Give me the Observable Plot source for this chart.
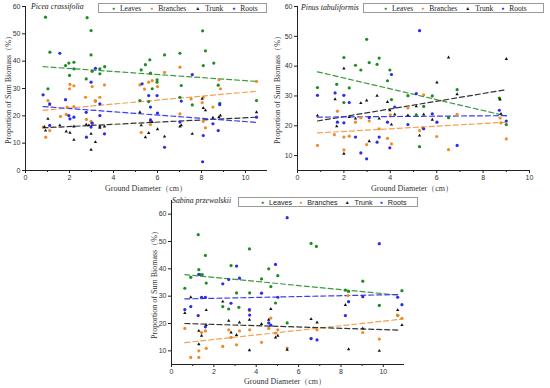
<!DOCTYPE html>
<html>
<head>
<meta charset="utf-8">
<script src="https://cdn.jsdelivr.net/npm/d3@7"></script>
<script src="https://cdn.jsdelivr.net/npm/@observablehq/plot@0.6"></script>
<style>
  body { margin: 0; background: #fff; }
  #root { position: relative; width: 550px; height: 388px; background: #fff; overflow: hidden; }
  .abs { position: absolute; }
  .title { font-family: "Liberation Serif", "Times New Roman", serif; font-style: italic; font-size: 7.8px; color: #222; white-space: nowrap; }
  .axlab { font-family: "Liberation Serif", "Times New Roman", serif; font-size: 8px; color: #333; white-space: nowrap; }
  .ylab { transform: translate(-50%, -50%) rotate(-90deg); }
  .xlab { transform: translate(-50%, -50%); }
  .legend { border: 1px solid #9a9a9a; box-sizing: border-box; display: flex; align-items: center; white-space: nowrap; color: #222; background: #fff; }
  .legend .item { display: flex; align-items: center; }
  .legend .mk { display: inline-block; font-size: 5px; line-height: 5px; margin-right: 5px; }
</style>
</head>
<body>
<div id="root"></div>
<script>
// ---------- data ----------
const series = ["Leaves", "Branches", "Trunk", "Roots"];
const xTicks = [0, 2, 4, 6, 8, 10];
const xMinorTicks = [1, 3, 5, 7, 9];
const yTicksA = [0, 10, 20, 30, 40, 50, 60];
const yTicksB = [10, 20, 30, 40, 50, 60];

// Picea crassifolia
const piceaLeaves = [[0.91,56.1],[1.11,43.3],[1.02,29.9],[1.82,38.4],[1.97,39.3],[2.2,39.6],[2.2,37.2],[2.0,34.8],[2.8,55.9],[2.98,51.2],[2.98,42.3],[2.76,33.5],[3.03,36.3],[3.38,37.2],[3.38,35.4],[3.6,38.0],[3.18,25.4],[5.26,36.8],[5.45,38.7],[5.65,40.5],[5.68,35.6],[5.76,29.9],[5.2,25.6],[5.6,25.2],[5.98,33.2],[5.98,32.3],[6.32,42.3],[7.02,42.9],[7.08,31.1],[7.02,26.8],[7.58,24.0],[8.05,51.1],[8.18,43.8],[8.08,38.4],[8.56,39.3],[8.76,31.2],[8.83,24.6],[10.5,25.6]];
const piceaBranches = [[0.8,15.9],[1.02,25.6],[0.92,12.2],[1.1,14.6],[1.59,19.8],[1.85,20.5],[1.89,23.2],[2.0,29.9],[2.02,31.5],[2.2,31.0],[2.2,23.4],[2.73,26.8],[2.77,18.7],[2.98,18.0],[3.03,30.7],[3.17,25.6],[3.38,26.8],[3.59,31.3],[5.2,31.3],[5.41,29.8],[5.6,32.3],[5.76,32.9],[6.0,30.7],[5.26,13.9],[5.68,16.8],[6.32,35.9],[7.02,37.8],[7.02,20.7],[7.53,26.2],[8.03,24.8],[8.08,26.8],[8.08,18.0],[8.18,15.6],[8.52,23.2],[8.79,33.2],[8.86,29.9],[10.5,32.6]];
const piceaTrunk = [[0.86,15.9],[0.91,14.6],[1.02,18.9],[1.1,24.1],[1.56,16.5],[1.85,14.3],[2.02,13.8],[2.2,16.1],[2.2,11.2],[2.76,16.8],[2.88,16.5],[2.98,13.4],[2.98,7.6],[3.18,10.4],[3.38,16.1],[3.38,15.6],[3.59,16.1],[5.2,21.3],[5.26,16.5],[5.45,12.2],[5.6,13.7],[5.68,18.3],[5.76,17.7],[6.0,15.1],[6.32,12.4],[7.02,16.1],[7.08,16.5],[7.58,13.4],[8.03,26.2],[8.08,22.9],[8.18,22.0],[8.52,19.3],[8.79,19.5],[8.86,20.1],[10.5,21.3]];
const piceaRoots = [[0.8,27.7],[1.1,24.4],[1.1,16.5],[1.56,42.9],[1.82,25.9],[1.97,20.1],[2.02,18.9],[2.2,19.5],[2.76,21.3],[2.77,12.2],[2.98,32.3],[2.98,15.9],[3.03,17.3],[3.18,37.4],[3.38,24.4],[3.38,20.1],[3.59,13.4],[5.3,31.7],[5.6,27.4],[5.68,23.2],[5.68,18.5],[5.98,27.4],[6.0,21.0],[6.32,8.5],[7.08,25.4],[7.02,17.7],[7.58,35.1],[8.08,12.8],[8.05,3.2],[8.52,17.1],[8.76,14.6],[8.83,24.1],[10.5,19.5]];
const piceaTrendLeaves = [[0.8,38.0],[10.5,32.6]];
const piceaTrendBranches = [[0.8,22.0],[10.5,29.0]];
const piceaTrendTrunk = [[0.8,15.6],[10.5,19.5]];
const piceaTrendRoots = [[0.8,23.4],[10.5,17.6]];

// Pinus tabuliformis
const pinusLeaves = [[0.86,32.8],[1.69,33.9],[2.0,42.9],[2.23,32.7],[2.0,27.8],[2.5,40.3],[2.73,38.7],[2.98,49.0],[3.09,41.2],[3.43,40.6],[3.52,42.7],[3.88,35.1],[3.98,38.7],[4.05,28.8],[4.76,30.1],[5.12,23.7],[5.26,13.0],[5.44,26.5],[5.81,30.0],[6.88,32.1],[6.51,22.7],[8.7,29.3],[9.0,20.4]];
const pinusBranches = [[0.86,13.4],[1.72,24.9],[1.59,17.0],[2.0,16.2],[2.0,11.9],[2.23,16.5],[2.5,21.2],[2.73,22.7],[2.98,13.7],[3.09,21.6],[3.52,19.0],[3.88,15.8],[4.0,23.7],[4.05,13.9],[4.76,26.0],[5.26,18.4],[5.4,19.3],[5.44,30.4],[6.0,16.4],[6.51,12.0],[6.88,23.8],[8.73,22.6],[8.77,21.0],[9.0,15.6]];
const pinusTrunk = [[0.86,23.4],[1.62,28.9],[1.69,19.8],[2.0,10.6],[2.0,39.2],[2.23,22.9],[2.5,22.4],[2.73,27.6],[2.98,28.5],[3.09,14.8],[3.43,30.1],[3.52,22.4],[3.88,28.0],[3.98,25.2],[4.05,20.4],[4.19,23.8],[4.76,23.5],[5.12,26.5],[5.26,16.7],[5.44,23.8],[5.81,22.0],[6.01,34.5],[6.51,42.9],[6.88,30.6],[8.73,28.8],[8.77,24.0],[9.0,42.4]];
const pinusRoots = [[0.86,30.2],[1.62,31.0],[1.72,21.2],[2.0,30.2],[2.0,21.0],[2.23,27.8],[2.5,16.2],[2.73,10.9],[2.98,8.9],[3.09,22.7],[3.43,14.5],[3.52,16.2],[3.88,21.2],[3.98,12.6],[4.05,37.2],[4.19,26.3],[4.76,20.4],[5.12,30.8],[5.26,51.9],[5.44,19.0],[5.81,24.0],[6.01,21.2],[6.88,13.4],[8.7,25.2],[9.0,21.6]];
const pinusTrendLeaves = [[0.86,38.1],[9.0,23.3]];
const pinusTrendBranches = [[0.86,17.6],[9.0,21.2]];
const pinusTrendTrunk = [[0.86,21.6],[9.0,32.1]];
const pinusTrendRoots = [[0.86,22.9],[9.0,23.4]];

// Sabina przewalskii
const sabinaLeaves = [[0.63,32.9],[0.91,36.9],[1.26,52.5],[1.29,39.7],[1.37,37.8],[1.45,37.9],[1.6,44.9],[1.64,34.8],[2.42,26.2],[2.7,25.3],[2.81,41.2],[3.07,31.2],[3.18,25.9],[3.68,47.3],[3.69,31.2],[4.25,36.3],[4.59,40.0],[4.69,33.5],[4.91,27.5],[5.02,37.5],[5.46,20.2],[6.59,49.3],[6.84,48.2],[8.21,32.2],[8.36,31.7],[9.03,35.5],[9.81,26.6],[10.68,23.0],[10.88,32.0]];
const sabinaBranches = [[0.63,18.2],[0.91,7.6],[1.29,7.6],[1.29,10.0],[1.42,16.7],[1.6,17.3],[1.64,10.9],[2.42,11.6],[2.7,17.7],[2.81,14.9],[3.07,12.2],[3.21,17.3],[3.68,24.7],[3.69,17.7],[4.25,13.1],[4.59,18.2],[4.69,22.0],[4.91,16.5],[5.02,17.7],[5.46,11.0],[6.59,14.5],[6.87,17.7],[8.33,30.2],[9.03,16.7],[9.81,14.3],[10.68,23.1],[10.88,21.9]];
const sabinaTrunk = [[0.63,23.8],[0.91,29.6],[1.29,17.3],[1.29,12.4],[1.42,15.5],[1.64,24.9],[1.64,19.4],[2.42,28.0],[2.7,21.0],[2.81,16.7],[3.07,15.8],[3.21,20.4],[3.68,21.4],[3.68,10.2],[4.25,19.8],[4.59,21.4],[4.69,25.3],[4.91,14.9],[5.02,15.5],[5.46,10.4],[6.59,21.6],[6.87,20.4],[8.21,26.8],[8.36,10.6],[9.03,18.2],[9.81,10.0],[10.68,24.9],[10.88,19.4]];
const sabinaRoots = [[0.63,25.1],[0.91,26.2],[1.26,22.9],[1.29,38.0],[1.42,29.6],[1.6,29.6],[1.6,18.8],[2.42,34.5],[2.7,36.1],[2.81,27.4],[3.07,41.0],[3.21,36.6],[3.68,25.1],[3.69,23.1],[4.25,31.1],[4.59,20.2],[4.69,19.4],[4.91,41.6],[5.02,29.6],[5.46,58.7],[6.59,14.5],[6.87,14.0],[8.21,22.9],[8.36,28.0],[9.03,29.8],[9.81,49.2],[10.68,29.6],[10.88,26.9]];
const sabinaTrendLeaves = [[0.63,37.9],[10.68,30.4]];
const sabinaTrendBranches = [[0.63,13.0],[10.88,21.6]];
const sabinaTrendTrunk = [[0.63,20.0],[10.68,17.6]];
const sabinaTrendRoots = [[0.63,29.0],[10.68,30.6]];

// ---------- styling ----------
const colors = ["#1e8c22", "#f28a26", "#111111", "#2b2bea"];
const trendColors = ["#3a9a3e", "#f5a04e", "#333333", "#3d3df0"];
const symbols = ["circle", "circle", "triangle", "circle"];
const radii = [1.6, 1.6, 1.25, 1.6];

function toRows(arrs) {
  const rows = [];
  arrs.forEach((a, i) => a.forEach(([x, y]) => rows.push({x, y, s: series[i]})));
  return rows;
}

function panel(cfg) {
  const pts = toRows(cfg.points);
  const trends = toRows(cfg.trends);
  const plot = Plot.plot({
    width: cfg.width, height: cfg.height,
    marginLeft: cfg.ml, marginRight: cfg.mr, marginTop: cfg.mt, marginBottom: cfg.mb,
    style: {fontFamily: "'Liberation Sans', Arial, sans-serif", fontSize: "7px", color: "#333", background: "transparent", maxWidth: "none"},
    x: {domain: cfg.xDomain},
    y: {domain: cfg.yDomain},
    color: {domain: series, range: colors},
    symbol: {domain: series, range: symbols},
    marks: [
      Plot.axisX({ticks: xTicks, tickSize: 3, tickPadding: 1.5, label: null, stroke: "#222"}),
      Plot.axisX({ticks: xMinorTicks, tickSize: 2, tickFormat: () => "", label: null, stroke: "#222"}),
      Plot.axisY({ticks: cfg.yTicks, tickSize: 3, tickPadding: 2, label: null, stroke: "#222"}),
      Plot.ruleX([cfg.xDomain[0]], {stroke: "#222", strokeWidth: 1}),
      Plot.ruleY([cfg.yDomain[0]], {stroke: "#222", strokeWidth: 1}),
      ...series.map((s, i) => Plot.line(trends.filter(d => d.s === s), {x: "x", y: "y", stroke: trendColors[i], strokeWidth: 1.2, strokeDasharray: "5,3"})),
      ...series.map((s, i) => Plot.dot(pts.filter(d => d.s === s), {x: "x", y: "y", fill: "s", symbol: "s", r: radii[i], stroke: "none"}))
    ]
  });
  plot.style.position = "absolute";
  plot.style.left = cfg.left + "px";
  plot.style.top = cfg.top + "px";
  return plot;
}

const root = document.getElementById("root");

const panels = [
  {left: 0, top: 0, width: 275, height: 195, ml: 25, mr: 8, mt: 6, mb: 25, xDomain: [0, 11], yDomain: [0, 60], yTicks: yTicksA,
   points: [piceaLeaves, piceaBranches, piceaTrunk, piceaRoots],
   trends: [piceaTrendLeaves, piceaTrendBranches, piceaTrendTrunk, piceaTrendRoots],
   title: "Picea crassifolia", titleX: 31, titleY: 2,
   legend: {x: 98, y: 3, w: 169, h: 10, pad: 13, gap: 9, font: "'Liberation Serif', serif", size: 7.5},
   xlab: [146, 188], ylab: [8, 88]},
  {left: 275, top: 0, width: 275, height: 195, ml: 22, mr: 21, mt: 6, mb: 25, xDomain: [0, 10], yDomain: [5, 60], yTicks: yTicksB,
   points: [pinusLeaves, pinusBranches, pinusTrunk, pinusRoots],
   trends: [pinusTrendLeaves, pinusTrendBranches, pinusTrendTrunk, pinusTrendRoots],
   title: "Pinus tabuliformis", titleX: 301, titleY: 3,
   legend: {x: 363, y: 3, w: 181, h: 10, pad: 20, gap: 8, font: "'Liberation Serif', serif", size: 7.5},
   xlab: [412, 188], ylab: [277, 88]},
  {left: 110, top: 190, width: 330, height: 198, ml: 61, mr: 36, mt: 10, mb: 24, xDomain: [0, 11], yDomain: [5, 65], yTicks: yTicksB,
   points: [sabinaLeaves, sabinaBranches, sabinaTrunk, sabinaRoots],
   trends: [sabinaTrendLeaves, sabinaTrendBranches, sabinaTrendTrunk, sabinaTrendRoots],
   title: "Sabina przewalskii", titleX: 172, titleY: 196,
   legend: {x: 238, y: 197, w: 180, h: 10, pad: 22, gap: 7, font: "'Liberation Sans', Arial, sans-serif", size: 7.2},
   xlab: [285, 381], ylab: [154, 283]}
];

panels.forEach(cfg => {
  root.appendChild(panel(cfg));

  const t = document.createElement("div");
  t.className = "abs title";
  t.textContent = cfg.title;
  t.style.left = cfg.titleX + "px"; t.style.top = cfg.titleY + "px";
  root.appendChild(t);

  const L = cfg.legend;
  const lg = document.createElement("div");
  lg.className = "abs legend";
  Object.assign(lg.style, {left: L.x + "px", top: L.y + "px", width: L.w + "px", height: L.h + "px",
    paddingLeft: L.pad + "px", gap: L.gap + "px", fontFamily: L.font, fontSize: L.size + "px"});
  series.forEach((s, i) => {
    const it = document.createElement("span");
    it.className = "item";
    const mk = document.createElement("span");
    mk.className = "mk";
    mk.style.color = colors[i];
    mk.textContent = symbols[i] === "triangle" ? "▲" : "●";
    it.appendChild(mk);
    const tx = document.createElement("span");
    tx.textContent = s;
    it.appendChild(tx);
    lg.appendChild(it);
  });
  root.appendChild(lg);

  const xl = document.createElement("div");
  xl.className = "abs axlab xlab";
  xl.textContent = "Ground Diameter（cm）";
  xl.style.left = cfg.xlab[0] + "px"; xl.style.top = cfg.xlab[1] + "px";
  root.appendChild(xl);

  const yl = document.createElement("div");
  yl.className = "abs axlab ylab";
  yl.textContent = "Proportion of Sum Biomass（%）";
  yl.style.left = cfg.ylab[0] + "px"; yl.style.top = cfg.ylab[1] + "px";
  root.appendChild(yl);
});
</script>
</body>
</html>
